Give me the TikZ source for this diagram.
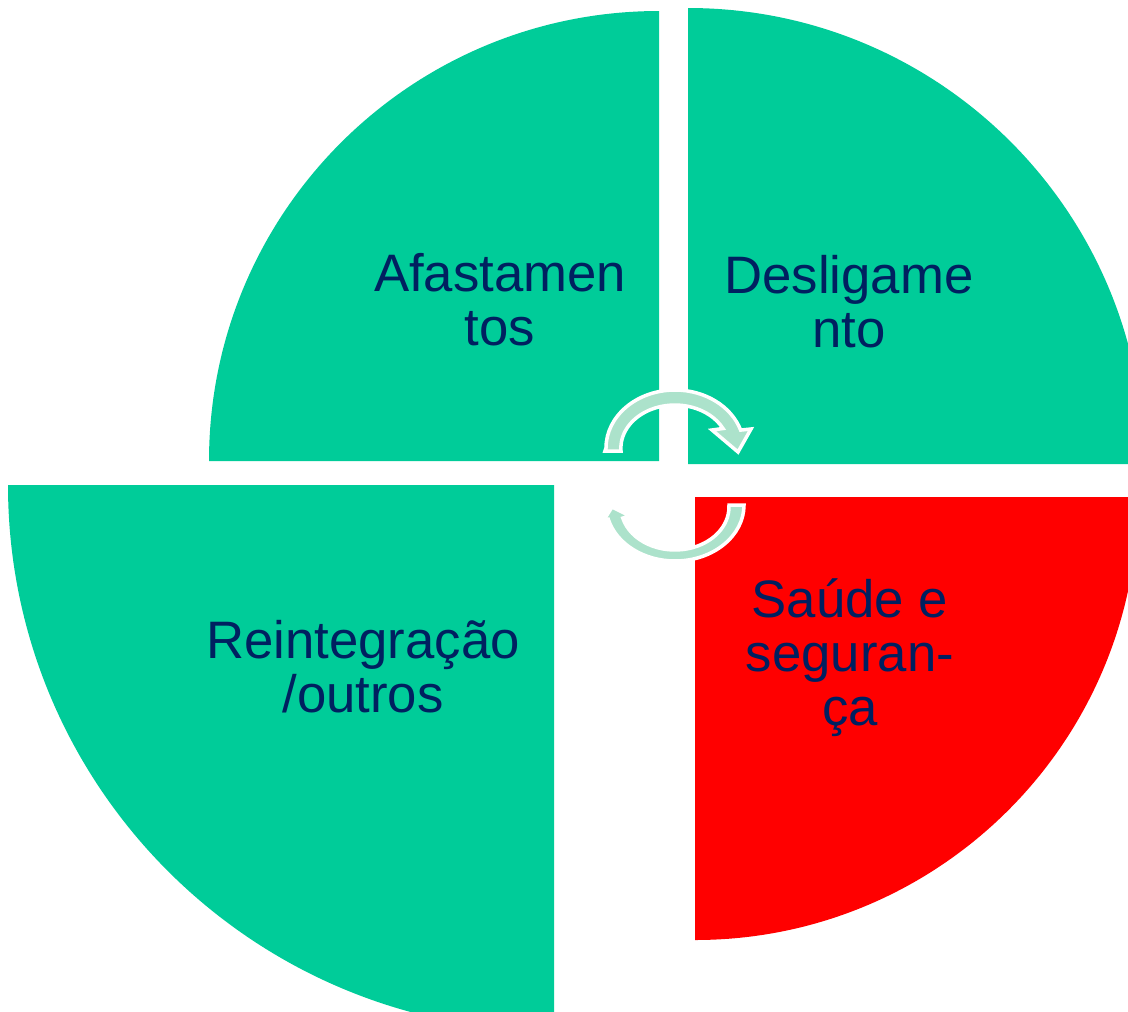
\documentclass[tikz,border=0pt]{standalone}
\usepackage{fontspec}
\setmainfont{Liberation Sans}
\definecolor{sectorgreen}{RGB}{0,204,153}
\definecolor{sectorred}{RGB}{255,0,0}
\definecolor{labelblue}{RGB}{0,32,96}
\definecolor{arrowgreen}{RGB}{172,226,203}
\tikzset{
  cyclearrow/.style={fill=arrowgreen, draw=white, line width=2pt, line join=miter},
  sectorlabel/.style={text=labelblue, align=center, anchor=base, inner sep=0pt,
    font=\fontsize{30}{30.6}\selectfont},
}
\begin{document}
\begin{tikzpicture}[x=0.02cm, y=-0.02cm]
  % Fix the page to the picture size
  \useasboundingbox (0,0) rectangle (1128,1011);
  \clip (0,0) rectangle (1128,1011);

  % Draw the four quarter sectors
  \fill[sectorgreen] (659,461) -- (209,461) arc[start angle=180, end angle=270, radius=450] -- cycle;
  \fill[sectorgreen] (688,464) -- (688,8) arc[start angle=270, end angle=360, radius=456] -- cycle;
  \fill[sectorred] (695,497) -- (1138,497) arc[start angle=0, end angle=90, radius=443] -- cycle;
  \fill[sectorgreen] (554,485) -- (554,1031) arc[start angle=90, end angle=180, radius=546] -- cycle;

  % Draw the circular arrows in the middle
  \filldraw[cyclearrow] (605,451) -- (606,448) arc[start angle=180, end angle=342, x radius=69, y radius=58]
    -- (751,429) -- (738,452) -- (712,430) -- (723,428.5)
    arc[start angle=333, end angle=180, x radius=54, y radius=43] -- (621,451) -- cycle;
  \filldraw[cyclearrow] (744,505) arc[start angle=0, end angle=165, x radius=69, y radius=56]
    -- (602,523) -- (612,507) -- (630,516) -- (622.8,518.1)
    arc[start angle=165, end angle=0, x radius=54, y radius=43] -- (729,505) -- cycle;

  % Add the labels
  \node[sectorlabel] (afastamentos) at (500,345) {Afastamen\\tos};
  \node[sectorlabel] (desligamento) at (849,347) {Desligame\\nto};
  \node[sectorlabel] (reintegracao) at (363,712) {Reintegração\\/outros};
  \node[sectorlabel] (saude) at (850,725) {Saúde e\\seguran-\\ça};
\end{tikzpicture}
\end{document}
